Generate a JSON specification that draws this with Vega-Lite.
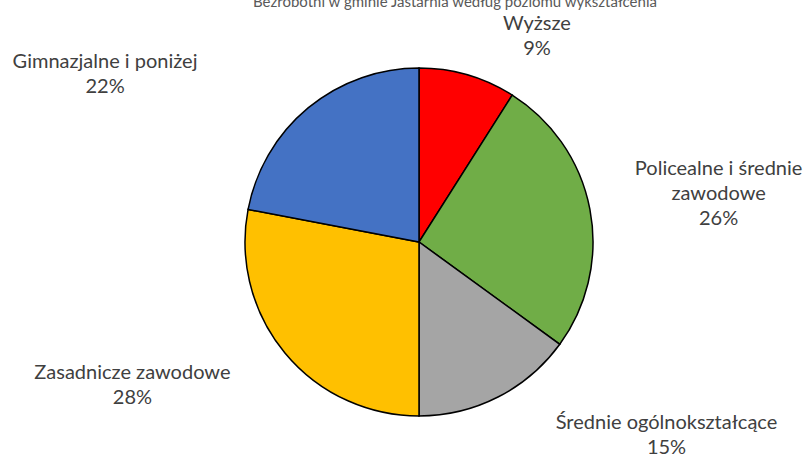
{
  "$schema": "https://vega.github.io/schema/vega-lite/v6.json",
  "width": 772,
  "height": 426,
  "autosize": "none",
  "padding": {"left": 33, "top": 29, "right": 0, "bottom": 0},
  "background": "white",
  "title": {
    "text": "Bezrobotni w gminie Jastarnia według poziomu wykształcenia",
    "anchor": "middle",
    "dx": 36,
    "dy": 8,
    "offset": 0,
    "baseline": "alphabetic",
    "font": "Lato",
    "fontSize": 15,
    "fontWeight": "normal",
    "color": "#595959"
  },
  "data": {
    "values": [
      {"kat": "Wyższe", "pct": 9, "idx": 1},
      {"kat": "Policealne i średnie zawodowe", "pct": 26, "idx": 2},
      {"kat": "Średnie ogólnokształcące", "pct": 15, "idx": 3},
      {"kat": "Zasadnicze zawodowe", "pct": 28, "idx": 4},
      {"kat": "Gimnazjalne i poniżej", "pct": 22, "idx": 5}
    ]
  },
  "transform": [
    {"calculate": "replace(datum.kat, 'i średnie ', 'i średnie|') + '|' + datum.pct + '%'", "as": "etykieta"}
  ],
  "layer": [
    {
      "mark": {"type": "arc", "outerRadius": 174, "stroke": "#000000", "strokeWidth": 1.5},
      "encoding": {
        "theta": {"field": "pct", "type": "quantitative", "stack": true},
        "order": {"field": "idx", "type": "quantitative"},
        "color": {
          "field": "kat",
          "type": "nominal",
          "scale": {
            "domain": ["Wyższe", "Policealne i średnie zawodowe", "Średnie ogólnokształcące", "Zasadnicze zawodowe", "Gimnazjalne i poniżej"],
            "range": ["#FF0000", "#70AD47", "#A5A5A5", "#FFC000", "#4472C4"]
          },
          "legend": null
        }
      }
    },
    {
      "mark": {
        "type": "text",
        "font": "Lato",
        "fontSize": 20,
        "color": "#404040",
        "lineBreak": "|",
        "lineHeight": 25,
        "align": "center",
        "baseline": "middle",
        "radius": {"expr": "datum.idx == 1 ? 215 : datum.idx == 2 ? 305 : datum.idx == 3 ? 217 : datum.idx == 4 ? 224 : 218"},
        "dx": {"expr": "datum.idx == 1 ? 58 : datum.idx == 2 ? 0 : datum.idx == 3 ? 149 : datum.idx == 4 ? -114 : -175"},
        "dy": {"expr": "datum.idx == 2 ? -16 : -12"}
      },
      "encoding": {
        "theta": {"field": "pct", "type": "quantitative", "stack": true},
        "order": {"field": "idx", "type": "quantitative"},
        "text": {"field": "etykieta", "type": "nominal"}
      }
    }
  ]
}
